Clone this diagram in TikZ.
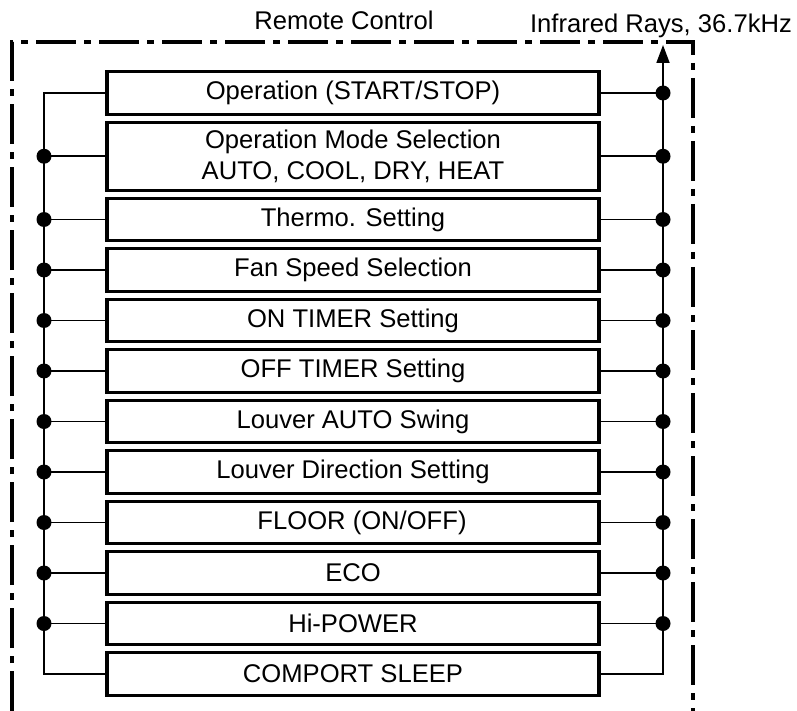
\documentclass[tikz,border=0pt]{standalone}
\usepackage{fontspec}
\setmainfont{Liberation Sans}
\usetikzlibrary{positioning, arrows.meta}

\begin{document}
\begin{tikzpicture}[x=1pt, y=-1pt, node distance=8pt, font=\fontsize{25.6}{31}\selectfont,
    keybox/.style={draw, line width=3.2pt, outer sep=0pt, inner sep=0pt, minimum width=492pt, minimum height=42.5pt, align=center},
    wire/.style={line width=1.8pt},
    junction/.style={circle, fill, inner sep=0pt, minimum size=15pt}]
  \useasboundingbox (0,0) rectangle (797,711);
  \draw[line width=3.4pt, dash pattern=on 40pt off 8pt on 7pt off 8pt] (12,711) -- (12,42) -- (693,42) -- (693,711);
  \node[anchor=base] (title) at (344,30) {Remote Control};
  \node[anchor=base] (ir) at (661,33) {Infrared Rays, 36.7kHz};

  \node[keybox] (op) at (353,93) {Operation (START/STOP)};
  \node[keybox, minimum height=68pt, below=of op] (mode) {Operation Mode Selection\\AUTO, COOL, DRY, HEAT};
  \node[keybox, below=of mode] (thermo) {Thermo. Setting};
  \node[keybox, below=of thermo] (fan) {Fan Speed Selection};
  \node[keybox, below=of fan] (ontimer) {ON TIMER Setting};
  \node[keybox, below=of ontimer] (offtimer) {OFF TIMER Setting};
  \node[keybox, below=of offtimer] (swing) {Louver AUTO Swing};
  \node[keybox, below=of swing] (louver) {Louver Direction Setting};
  \node[keybox, below=of louver] (floor) {\hspace*{18pt}FLOOR (ON/OFF)};
  \node[keybox, below=of floor] (eco) {ECO};
  \node[keybox, below=of eco] (hipower) {Hi-POWER};
  \node[keybox, below=of hipower] (sleep) {COMPORT SLEEP};

  \coordinate (lbus) at (44,0);
  \coordinate (rbus) at (663,0);
  \coordinate (irout) at (663,45);

  \draw[wire] (op.west) -| (sleep.west -| lbus) -- (sleep.west);
  \draw[wire, -{Triangle[length=18pt, width=13pt]}] (sleep.east) -| (irout);
  \foreach \k in {mode, thermo, fan, ontimer, offtimer, swing, louver, floor, eco, hipower}
    \draw[wire] (\k.west) -- (\k.west -| lbus) node[junction] {};
  \foreach \k in {op, mode, thermo, fan, ontimer, offtimer, swing, louver, floor, eco, hipower}
    \draw[wire] (\k.east) -- (\k.east -| rbus) node[junction] {};
\end{tikzpicture}
\end{document}
